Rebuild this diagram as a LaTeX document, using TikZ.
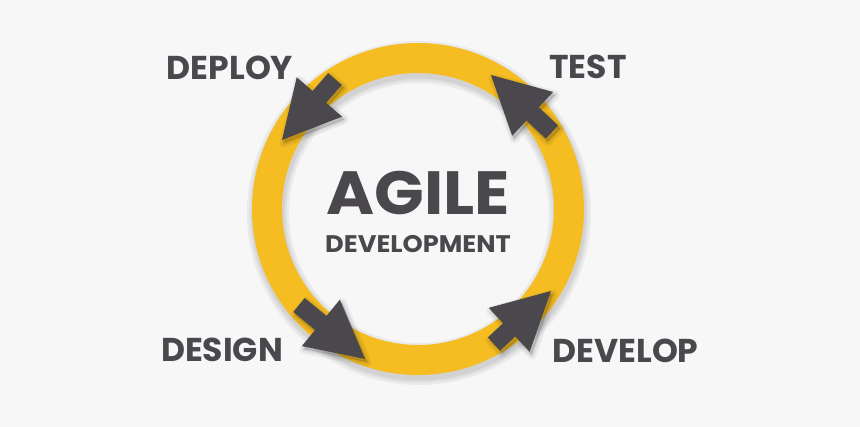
\documentclass[tikz,border=0pt]{standalone}
\usepackage{fontspec}
\setmainfont{Poppins}
\newfontfamily\widefont[FakeStretch=1.07]{Poppins}
\usetikzlibrary{calc}

\definecolor{agileyellow}{HTML}{F5BD22}
\definecolor{agiledark}{HTML}{4A474D}
\definecolor{agilebg}{HTML}{F7F7F7}

\tikzset{
  phase/.style={text=agiledark, font=\fontsize{33}{33}\selectfont\bfseries, inner sep=0pt},
  arrowbody/.style={fill=agiledark},
  arrowshade/.style={fill=black, draw=black, line join=round, opacity=0.05},
}

% Blockpfeil von #2 (Ende) nach #3 (Spitze)
\newcommand{\agilearrow}[4][arrowbody]{%
  \coordinate (#2-b) at ($(#4)!57pt!(#3)$);
  \path[#1] ($(#3)!9pt!90:(#4)$) -- ($(#2-b)!9pt!90:(#4)$) -- ($(#2-b)!30pt!90:(#4)$)
    -- (#4) -- ($(#2-b)!30pt!-90:(#4)$) -- ($(#2-b)!9pt!-90:(#4)$) -- ($(#3)!9pt!-90:(#4)$) -- cycle;
}

\begin{document}
\begin{tikzpicture}[x=1pt, y=-1pt]
    \fill[agilebg] (0,0) rectangle (860,427);

    % Ring
    \coordinate (ring) at (418,209);
    \begin{scope}[transform canvas={xshift=1pt, yshift=-4pt}]
      \foreach \w in {42,37,33} {
        \draw[black, opacity=0.05, line width=\w pt] (ring) circle (151);
      }
    \end{scope}
    \draw[agileyellow, line width=30pt] (ring) circle (151);

    % Pfeile
    \coordinate (deploy-tail) at (335,79);
    \coordinate (deploy-tip) at (282,140);
    \coordinate (test-tail) at (552,132);
    \coordinate (test-tip) at (491,75);
    \coordinate (design-tail) at (299,305);
    \coordinate (design-tip) at (365,359);
    \coordinate (develop-tail) at (494,344);
    \coordinate (develop-tip) at (551,291);

    \foreach \p in {deploy,test,design,develop} {
      \begin{scope}[transform canvas={xshift=2pt, yshift=-3pt}]
        \foreach \w in {9,5,2} {
          \agilearrow[arrowshade, line width=\w pt]{\p s}{\p-tail}{\p-tip}
        }
      \end{scope}
      \agilearrow{\p}{\p-tail}{\p-tip}
    }

    % Beschriftung
    \node[phase] (deploy) at (230,67.5) {DEPLOY};
    \node[phase] (test) at (588,67) {TEST};
    \node[phase] (design) at (222,350) {DESIGN};
    \node[phase] (develop) at (625.5,351) {DEVELOP};
    \node[phase, font=\widefont\fontsize{61}{61}\selectfont\bfseries] (agile) at (418,193.5) {AGILE};
    \node[phase, font=\widefont\fontsize{24}{24}\selectfont\bfseries] (development) at (418,244.5) {DEVELOPMENT};
\end{tikzpicture}
\end{document}
